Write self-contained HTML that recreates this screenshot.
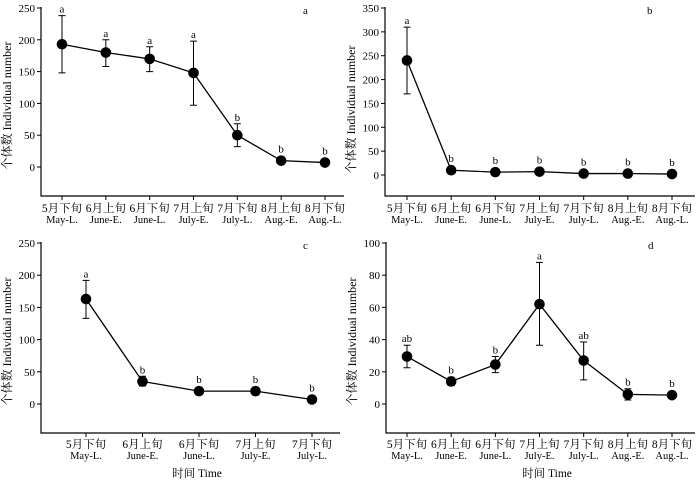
<!DOCTYPE html>
<html><head><meta charset="utf-8"><style>
body{margin:0;background:#fff}
svg text{font-family:"Liberation Serif","Noto Serif CJK SC",serif;fill:#000}
</style></head><body>
<svg id="c" width="700" height="484" xmlns="http://www.w3.org/2000/svg"></svg>
<script>
const catsZh7=["5月下旬","6月上旬","6月下旬","7月上旬","7月下旬","8月上旬","8月下旬"];
const catsEn7=["May-L.","June-E.","June-L.","July-E.","July-L.","Aug.-E.","Aug.-L."];
const aVals=[193,180,170,148,50,10,7];
const aLo=[148,158,150,97,32,null,null];
const aHi=[238,200,189,198,68,null,null];
const aSig=["a","a","a","a","b","b","b"];
const bVals=[240,10,6,7,3,3,2];
const bLo=[170,null,null,null,null,null,null];
const bHi=[310,null,null,null,null,null,null];
const bSig=["a","b","b","b","b","b","b"];
const cVals=[163,35,20,20,7];
const cLo=[133,28,null,14,null];
const cHi=[192,43,null,26,null];
const cSig=["a","b","b","b","b"];
const dVals=[29.5,14,24.5,62,27,6,5.5];
const dLo=[22.5,11.5,19.5,36.5,15,2.5,null];
const dHi=[36.5,16.5,29.5,88,38.5,9.5,null];
const dSig=["ab","b","b","a","ab","b","b"];
const aTicks=[0,50,100,150,200,250],bTicks=[0,50,100,150,200,250,300,350],cTicks=[0,50,100,150,200,250],dTicks=[0,20,40,60,80,100];
const NS="http://www.w3.org/2000/svg";const svg=document.getElementById('c');
function mk(t,at,p){const e=document.createElementNS(NS,t);for(const k in at)e.setAttribute(k,at[k]);(p||svg).appendChild(e);return e;}
function panel(o){
 const g=mk('g',{});
 
 
 const ymax=o.ticks[o.ticks.length-1];
 const y=v=>o.y0+(o.yTop-o.y0)*v/ymax;
 const x=i=>o.xs0+(o.xs1-o.xs0)*i/(o.vals.length-1);
 const ax=mk('path',{d:`M${o.ax},${o.yTop-1}V${o.axY}H${o.axR}`,stroke:'#000','stroke-width':1.2,fill:'none'},g);
 
 o.ticks.forEach(t=>{mk('line',{x1:o.ax-4,x2:o.ax,y1:y(t),y2:y(t),stroke:'#000'},g);
  const tx=mk('text',{x:o.ax-6,y:y(t)+4,'text-anchor':'end','font-size':11},g);tx.textContent=t;
  });
 const yl=mk('text',{transform:`translate(${o.ax-30},${(o.yTop+o.y0)/2+18}) rotate(-90)`,'text-anchor':'middle','font-size':12},g);
 yl.textContent='个体数 Individual number';
 const pts=o.vals.map((v,i)=>x(i)+','+y(v)).join(' ');
 const ln=mk('polyline',{points:pts,fill:'none',stroke:'#000','stroke-width':1.3},g);
 
 o.vals.forEach((v,i)=>{
  mk('line',{x1:x(i),x2:x(i),y1:o.axY,y2:o.axY+4,stroke:'#000'},g);
  const t1=mk('text',{x:x(i),y:o.lblY,'text-anchor':'middle','font-size':11.5},g);t1.textContent=o.zh[i];
  
  const t2=mk('text',{x:x(i),y:o.lblY+11,'text-anchor':'middle','font-size':10.5},g);t2.textContent=o.en[i];
  
  let top=y(v);
  if(o.hi[i]!=null){const e=mk('path',{d:`M${x(i)},${y(o.lo[i])}V${y(o.hi[i])}M${x(i)-3.5},${y(o.lo[i])}h7M${x(i)-3.5},${y(o.hi[i])}h7`,stroke:'#000','stroke-width':1},g);
   top=y(o.hi[i]);}
  const c=mk('circle',{cx:x(i),cy:y(v),r:5.3,fill:'#000'},g);
  
  const s=mk('text',{x:x(i),y:Math.min(top,y(v)-5)-3,'text-anchor':'middle','font-size':11},g);s.textContent=o.sig[i];
  
 });
 const L=mk('text',{x:o.ax+262,y:o.yTop+6,'font-size':11},g);L.textContent=o.letter;
 
 if(o.xt){const xt=mk('text',{x:o.xtX,y:477,'text-anchor':'middle','font-size':11.5},g);xt.textContent='时间 Time';
  }
}
panel({letter:'a',vals:aVals,lo:aLo,hi:aHi,sig:aSig,ticks:aTicks,zh:catsZh7,en:catsEn7,ax:41,yTop:8,y0:167,axY:196,axR:344,xs0:62,xs1:325,lblY:212});
panel({letter:'b',vals:bVals,lo:bLo,hi:bHi,sig:bSig,ticks:bTicks,zh:catsZh7,en:catsEn7,ax:385,yTop:8,y0:175,axY:196,axR:695,xs0:407,xs1:672,lblY:212});
panel({letter:'c',vals:cVals,lo:cLo,hi:cHi,sig:cSig,ticks:cTicks,zh:catsZh7.slice(0,5),en:catsEn7.slice(0,5),ax:41,yTop:243,y0:404,axY:433,axR:340,xs0:86,xs1:312,lblY:448,xt:true,xtX:197});
panel({letter:'d',vals:dVals,lo:dLo,hi:dHi,sig:dSig,ticks:dTicks,zh:catsZh7,en:catsEn7,ax:386,yTop:243,y0:404,axY:433,axR:695,xs0:407,xs1:672,lblY:448,xt:true,xtX:547});
</script>
</body></html>
